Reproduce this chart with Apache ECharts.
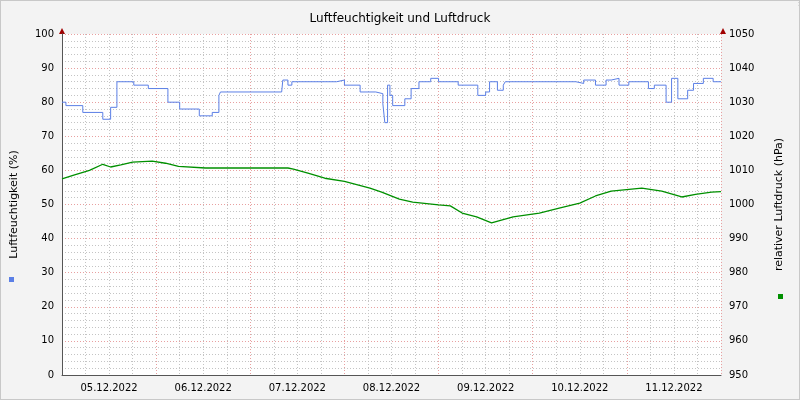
<!DOCTYPE html>
<html>
<head>
<meta charset="utf-8">
<script src="https://cdn.jsdelivr.net/npm/echarts@6/dist/echarts.min.js"></script>
<style>
  html, body { margin: 0; padding: 0; }
  #myChart { width: 800px; height: 400px; background: #f3f3f3; box-sizing: border-box; border: 1px solid #c8c8c8; }
</style>
</head>
<body>
<div id="myChart"></div>
<script>
let myChart = echarts.init(document.getElementById('myChart'));

// hours after 05.12.2022 00:00
const dayLabels = ['05.12.2022', '06.12.2022', '07.12.2022', '08.12.2022', '09.12.2022', '10.12.2022', '11.12.2022'];

const humidity = [
  [0, 80], [1, 79], [5.3, 77], [10.4, 75], [12.4, 78.5], [14, 86], [18.3, 85], [22, 84],
  [27, 80], [30, 78], [35, 76], [38.3, 77], [40, 82], [40.4, 83], [56, 83], [56.3, 86.5],
  [57.6, 85], [58.6, 86], [70, 86.5], [72, 85], [76, 83], [80, 82.5], [81.8, 79.5], [82.3, 74],
  [83, 85], [83.6, 82], [84.3, 79], [87.4, 81], [89, 84], [91, 86], [94, 87], [96, 86],
  [101, 85], [106, 82], [108, 83], [109, 86], [111, 83.5], [112.5, 85], [113, 86], [131, 85.5],
  [133, 86.5], [136, 85], [138.7, 86.5], [140, 87], [142, 85], [144.5, 86], [149.5, 84], [151, 85],
  [154, 80], [155.4, 87], [157, 81], [159.5, 83.5], [161, 85.5], [163.5, 87], [166, 86], [168, 86]
];

const pressure = [
  [0, 1007.5], [3, 1008.6], [7, 1010], [10.4, 1011.8], [12.4, 1011], [15, 1011.6], [18, 1012.4],
  [23, 1012.7], [26.4, 1012.1], [29.7, 1011.2], [36.6, 1010.7], [45, 1010.7], [57.6, 1010.7],
  [59, 1010.4], [62.7, 1009.2], [67, 1007.7], [72, 1006.8], [78.5, 1004.8], [81.5, 1003.6],
  [86, 1001.6], [89.4, 1000.7], [96, 999.9], [99, 999.6], [102, 997.5], [105.7, 996.4],
  [109.5, 994.6], [115, 996.4], [121.7, 997.5], [127, 999], [132, 1000.4], [136, 1002.5],
  [140, 1003.9], [147.8, 1004.8], [152.9, 1003.9], [158, 1002.2], [161.5, 1003], [165.6, 1003.6],
  [168, 1003.8]
];

const font = { fontFamily: 'DejaVu Sans', fontSize: 10, color: '#000' };
const minorGrid = { lineStyle: { type: [1, 2], color: '#c4c4c4', width: 1 } };
const majorGrid = { lineStyle: { type: [1, 2], color: '#e8a0a0', width: 1 } };

let myChartOption = {
  animation: false,
  textStyle: { fontFamily: 'DejaVu Sans' },
  title: {
    text: 'Luftfeuchtigkeit und Luftdruck',
    left: 'center',
    top: 7,
    textStyle: { fontFamily: 'DejaVu Sans', fontSize: 12, fontWeight: 'normal', color: '#000' },
  },
  grid: { left: 61, right: 78, top: 33, bottom: 24, backgroundColor: '#fff', show: true, borderWidth: 0 },
  xAxis: [
    {
      type: 'value',
      min: 0,
      max: 168,
      interval: 6,
      axisLine: { lineStyle: { color: '#555' } },
      axisTick: { show: false },
      axisLabel: Object.assign({}, font, {
        formatter: function (v) {
          return v % 24 === 12 ? dayLabels[(v - 12) / 24] : '';
        },
      }),
      splitLine: minorGrid,
    },
    {
      type: 'value',
      min: 0,
      max: 168,
      interval: 24,
      position: 'bottom',
      axisLine: { show: false },
      axisTick: { show: false },
      axisLabel: { show: false },
      splitLine: majorGrid,
    },
  ],
  yAxis: [
    {
      type: 'value',
      min: 0,
      max: 100,
      interval: 2,
      name: 'Luftfeuchtigkeit (%)',
      nameLocation: 'middle',
      nameGap: 42,
      nameTextStyle: { fontFamily: 'DejaVu Sans', fontSize: 11, color: '#000' },
      axisLine: { show: true, lineStyle: { color: '#555' } },
      axisTick: { show: false },
      axisLabel: Object.assign({}, font, {
        formatter: function (v) { return v % 10 === 0 ? v : ''; },
      }),
      splitLine: minorGrid,
    },
    {
      type: 'value',
      min: 950,
      max: 1050,
      interval: 10,
      name: 'relativer Luftdruck (hPa)',
      nameLocation: 'middle',
      nameGap: 53,
      nameTextStyle: { fontFamily: 'DejaVu Sans', fontSize: 11, color: '#000' },
      axisLine: { show: true, lineStyle: { color: '#555' } },
      axisTick: { show: false },
      axisLabel: Object.assign({}, font, { formatter: function (v) { return String(v); } }),
      splitLine: { show: false },
    },
    {
      type: 'value',
      min: 0,
      max: 100,
      interval: 10,
      position: 'left',
      axisLine: { show: false },
      axisTick: { show: false },
      axisLabel: { show: false },
      splitLine: majorGrid,
    },
  ],
  series: [
    {
      name: 'Luftfeuchtigkeit',
      type: 'line',
      step: 'end',
      yAxisIndex: 0,
      symbol: 'none',
      data: humidity,
      lineStyle: { color: '#5b7fe6', width: 1 },
    },
    {
      name: 'Luftdruck',
      type: 'line',
      yAxisIndex: 1,
      symbol: 'none',
      data: pressure,
      lineStyle: { color: '#009000', width: 1.3 },
    },
  ],
  graphic: [
    { type: 'rect', shape: { x: 8, y: 276, width: 5, height: 5 }, style: { fill: '#5b7fe6' } },
    { type: 'rect', shape: { x: 777, y: 293, width: 5, height: 5 }, style: { fill: '#009000' } },
    { type: 'polygon', shape: { points: [[58, 33], [64, 33], [61, 27]] }, style: { fill: '#a00000' } },
    { type: 'polygon', shape: { points: [[719, 33], [725, 33], [722, 27]] }, style: { fill: '#a00000' } },
    {
      type: 'text', x: 795, y: 5, rotation: -Math.PI / 2,
      style: { text: 'RRDTOOL / TOBI OETIKER', font: '7px DejaVu Sans', fill: '#d0d0d0', align: 'right', verticalAlign: 'bottom' },
    },
  ],
};

myChart.setOption(myChartOption);
</script>
</body>
</html>
